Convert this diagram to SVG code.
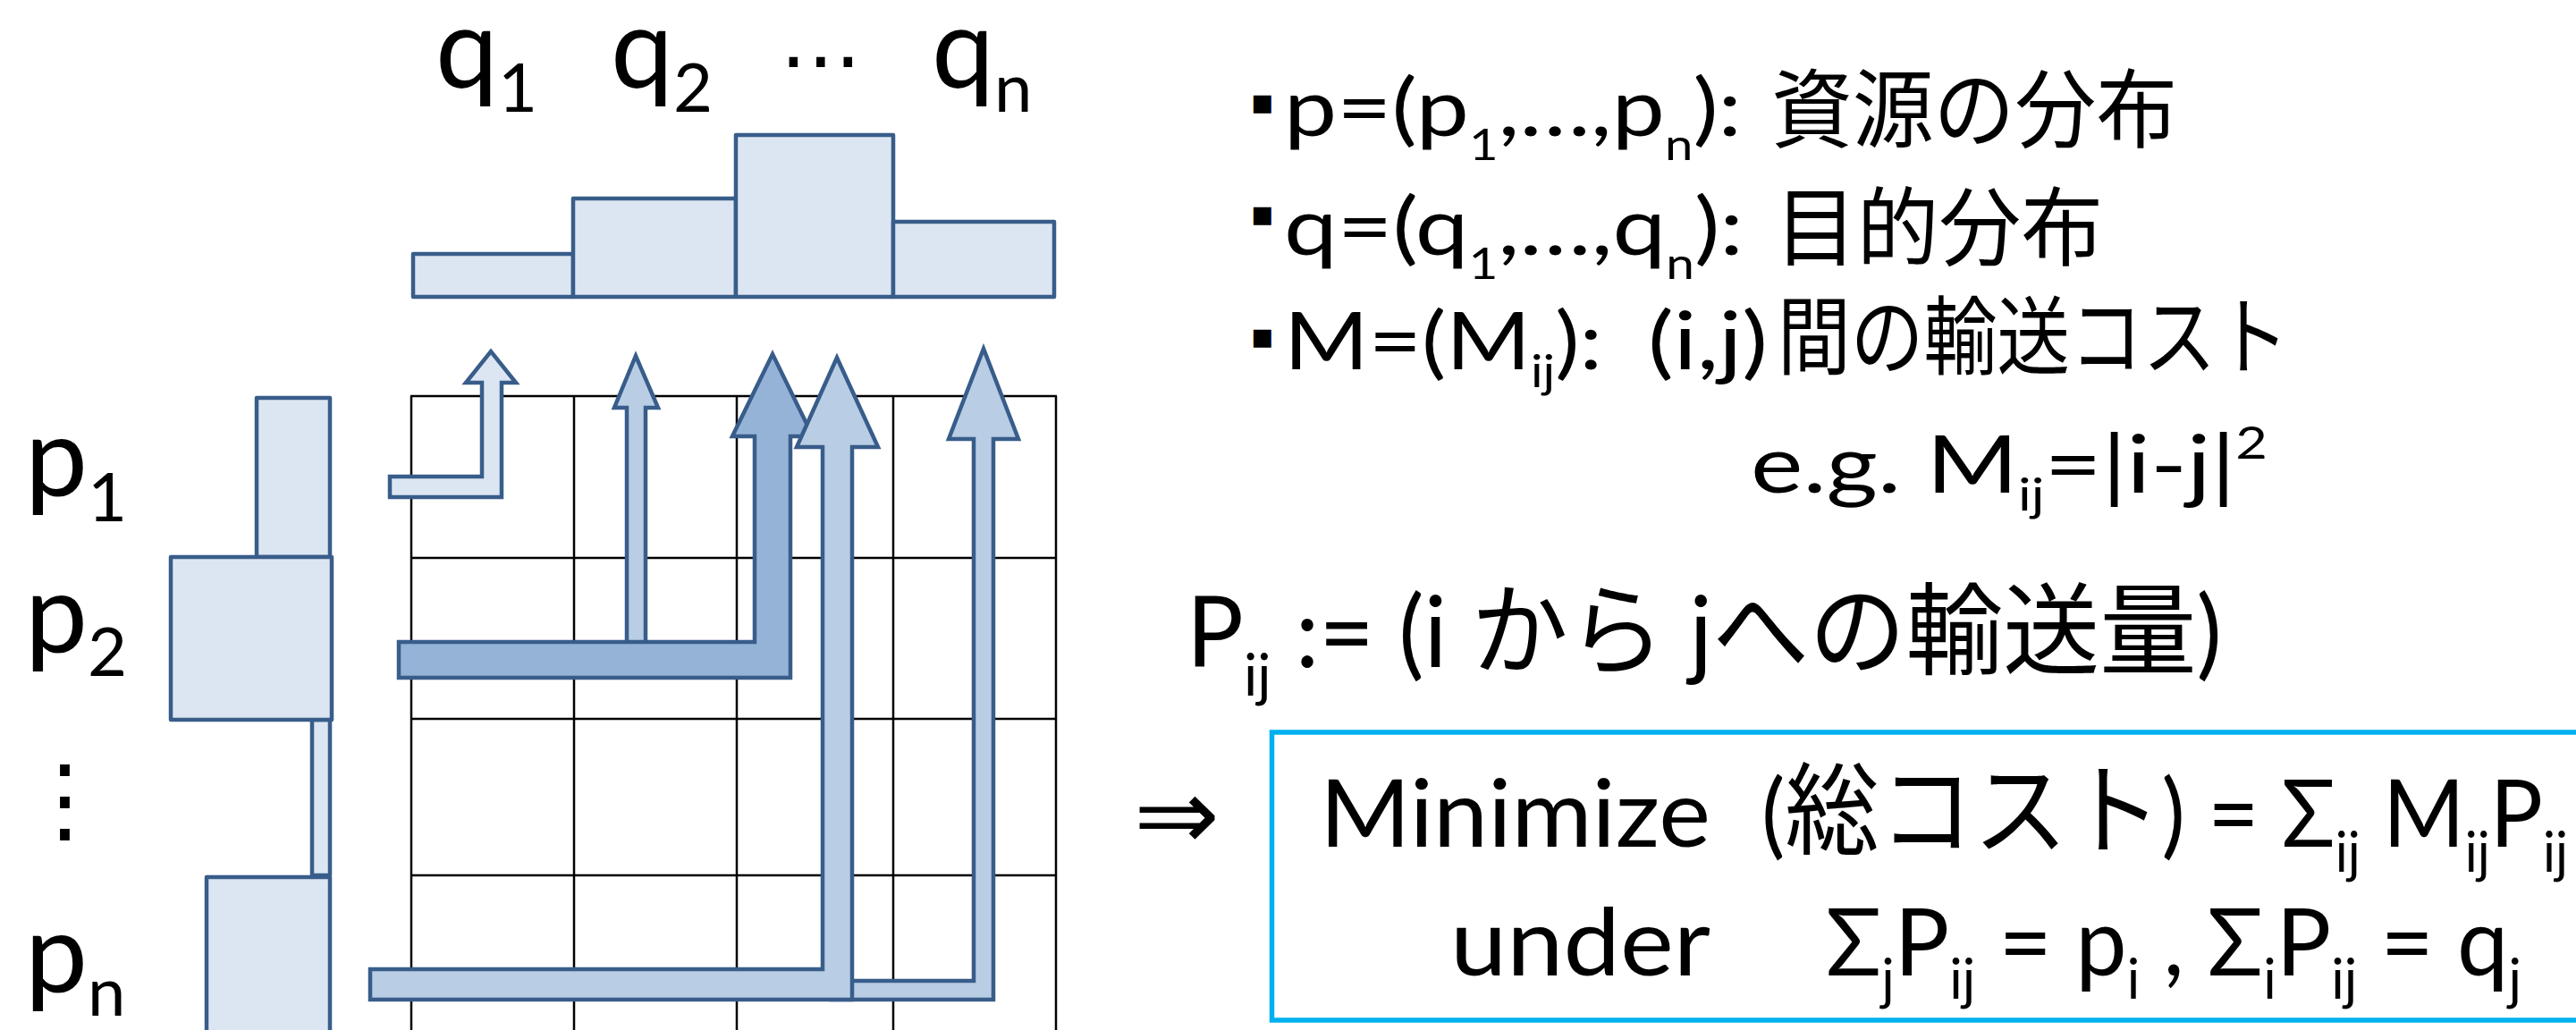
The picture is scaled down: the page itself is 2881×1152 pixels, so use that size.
<svg xmlns="http://www.w3.org/2000/svg" width="2881" height="1152" viewBox="0 0 2881 1152">
  <style>
    .bg { fill: #FFFFFF; }
    .grid line { stroke: #000000; stroke-width: 2.5; }
    .bar { fill: #DCE6F2; stroke: #385D8A; stroke-width: 4.5; stroke-linejoin: round; }
    .arr { stroke: #385D8A; stroke-width: 4.5; stroke-linejoin: miter; }
    .f80 { fill: #DCE6F2; }
    .f60 { fill: #B9CDE5; }
    .f40 { fill: #95B3D7; }
    text { font-family: Lato, "Noto Sans CJK JP", sans-serif; fill: #000000; }
    .jp { font-family: "Noto Sans CJK JP", sans-serif; }
    .sym { font-family: "DejaVu Sans", "Noto Sans CJK JP", sans-serif; }
    .box { fill: none; stroke: #00B0F0; stroke-width: 5.5; }
    .def { font-size: 90px; }
    .defjp { font-family: "Noto Sans CJK JP", sans-serif; font-size: 96px; }
    .bul { font-family: "DejaVu Sans", sans-serif; font-size: 40px; }
  </style>
  <rect class="bg" x="0" y="0" width="2881" height="1152"/>

  <g id="grid" class="grid">
    <line x1="460" y1="443" x2="460" y2="1152"/>
    <line x1="642" y1="443" x2="642" y2="1152"/>
    <line x1="824" y1="443" x2="824" y2="1152"/>
    <line x1="999" y1="443" x2="999" y2="1152"/>
    <line x1="1181" y1="443" x2="1181" y2="1152"/>
    <line x1="459" y1="443" x2="1182" y2="443"/>
    <line x1="459" y1="624" x2="1182" y2="624"/>
    <line x1="459" y1="804" x2="1182" y2="804"/>
    <line x1="459" y1="979" x2="1182" y2="979"/>
  </g>

  <g id="hist-q">
    <rect class="bar" x="462" y="284" width="179" height="48"/>
    <rect class="bar" x="641" y="222" width="182" height="110"/>
    <rect class="bar" x="823" y="151" width="176" height="181"/>
    <rect class="bar" x="999" y="248" width="180" height="84"/>
  </g>

  <g id="hist-p">
    <rect class="bar" x="287" y="445" width="82" height="178"/>
    <rect class="bar" x="349" y="805" width="20" height="174"/>
    <rect class="bar" x="191" y="623" width="180" height="182"/>
    <rect class="bar" x="231" y="981" width="138" height="190"/>
  </g>

  <g id="connectors">
    <path class="arr f80" d="M436,533 L539,533 L539,428 L521,428 L549,393 L577,428 L561,428 L561,556 L436,556 Z"/>
    <path class="arr f60" d="M701,745 L701,456 L687,456 L711,398 L736,456 L722,456 L722,745 Z"/>
    <path class="arr f40" d="M446,718 L844,718 L844,488 L819,488 L864,396 L909,488 L884,488 L884,758 L446,758 Z"/>
    <path class="arr f60" d="M930,1097 L1089,1097 L1089,491 L1061,491 L1100,390 L1139,491 L1111,491 L1111,1118 L930,1118 Z"/>
    <path class="arr f60" d="M414,1084 L920,1084 L920,500 L891,500 L936,400 L982,500 L953,500 L953,1118 L414,1118 Z"/>
  </g>

  <g id="labels-q">
    <text x="487" y="98" font-size="125">q<tspan font-size="76" dy="27">1</tspan></text>
    <text x="683" y="98" font-size="125">q<tspan font-size="76" dy="27">2</tspan></text>
    <text class="sym" x="872" y="98" font-size="92">⋯</text>
    <text x="1042" y="98" font-size="125">q<tspan font-size="76" dy="27">n</tspan></text>
  </g>

  <g id="labels-p">
    <text x="28" y="555" font-size="125">p<tspan font-size="76" dy="28">1</tspan></text>
    <text x="28" y="730" font-size="125">p<tspan font-size="76" dy="26">2</tspan></text>
    <text class="sym" x="20" y="930" font-size="105">⋮</text>
    <text x="28" y="1110" font-size="125">p<tspan font-size="76" dy="26">n</tspan></text>
  </g>

  <g id="definitions">
    <text class="bul" x="1398" y="127">▪</text>
    <text class="def" x="1436" y="152" textLength="512" lengthAdjust="spacingAndGlyphs">p=(p<tspan font-size="48" dy="27">1</tspan><tspan dy="-27">,…,p</tspan><tspan font-size="48" dy="27">n</tspan><tspan dy="-27">):</tspan></text>
    <text class="defjp" x="1981" y="157" textLength="454" lengthAdjust="spacingAndGlyphs">資源の分布</text>

    <text class="bul" x="1398" y="252">▪</text>
    <text class="def" x="1436" y="285" textLength="514" lengthAdjust="spacingAndGlyphs">q=(q<tspan font-size="48" dy="27">1</tspan><tspan dy="-27">,…,q</tspan><tspan font-size="48" dy="27">n</tspan><tspan dy="-27">):</tspan></text>
    <text class="defjp" x="1985" y="289" textLength="367" lengthAdjust="spacingAndGlyphs">目的分布</text>

    <text class="bul" x="1398" y="389">▪</text>
    <text class="def" x="1436" y="413" textLength="356" lengthAdjust="spacingAndGlyphs">M=(M<tspan font-size="50" dy="20">ij</tspan><tspan dy="-20">):</tspan></text>
    <text class="def" x="1843" y="413" font-size="96" textLength="134" lengthAdjust="spacingAndGlyphs">(i,j)</text>
    <text class="defjp" x="1988" y="411" textLength="572" lengthAdjust="spacingAndGlyphs">間の輸送コスト</text>

    <text class="def" x="1958" y="551" textLength="578" lengthAdjust="spacingAndGlyphs">e.g. M<tspan font-size="50" dy="20">ij</tspan><tspan dy="-20">=|i-j|</tspan><tspan font-size="50" dy="-38">2</tspan></text>
  </g>

  <g id="transport">
    <text x="1327" y="746" font-size="110" textLength="1158" lengthAdjust="spacingAndGlyphs">P<tspan font-size="66" dy="32">ij</tspan><tspan dy="-32"> := (i </tspan><tspan class="jp" font-size="112">から</tspan><tspan> j</tspan><tspan class="jp" font-size="112">への輸送量</tspan><tspan>)</tspan></text>
  </g>

  <g id="arrow-implies">
    <text class="sym" x="1268" y="950" font-size="112" textLength="96" lengthAdjust="spacingAndGlyphs">⇒</text>
  </g>

  <g id="problem">
    <rect class="box" x="1422.5" y="819" width="1500" height="322"/>
    <text x="1476" y="947" font-size="105" textLength="437" lengthAdjust="spacingAndGlyphs">Minimize</text>
    <text x="1970" y="947" font-size="105" textLength="902" lengthAdjust="spacingAndGlyphs">(<tspan class="jp" font-size="112">総コスト</tspan><tspan>) = Σ</tspan><tspan font-size="62" dy="28">ij</tspan><tspan dy="-28"> M</tspan><tspan font-size="62" dy="28">ij</tspan><tspan dy="-28">P</tspan><tspan font-size="62" dy="28">ij</tspan></text>
    <text x="1622" y="1091" font-size="105" textLength="291" lengthAdjust="spacingAndGlyphs">under</text>
    <text x="2042" y="1091" font-size="105" textLength="778" lengthAdjust="spacingAndGlyphs">Σ<tspan font-size="62" dy="26">j</tspan><tspan dy="-26">P</tspan><tspan font-size="62" dy="26">ij</tspan><tspan dy="-26"> = p</tspan><tspan font-size="62" dy="26">i</tspan><tspan dy="-26"> , Σ</tspan><tspan font-size="62" dy="26">i</tspan><tspan dy="-26">P</tspan><tspan font-size="62" dy="26">ij</tspan><tspan dy="-26"> = q</tspan><tspan font-size="62" dy="26">j</tspan></text>
  </g>
</svg>
